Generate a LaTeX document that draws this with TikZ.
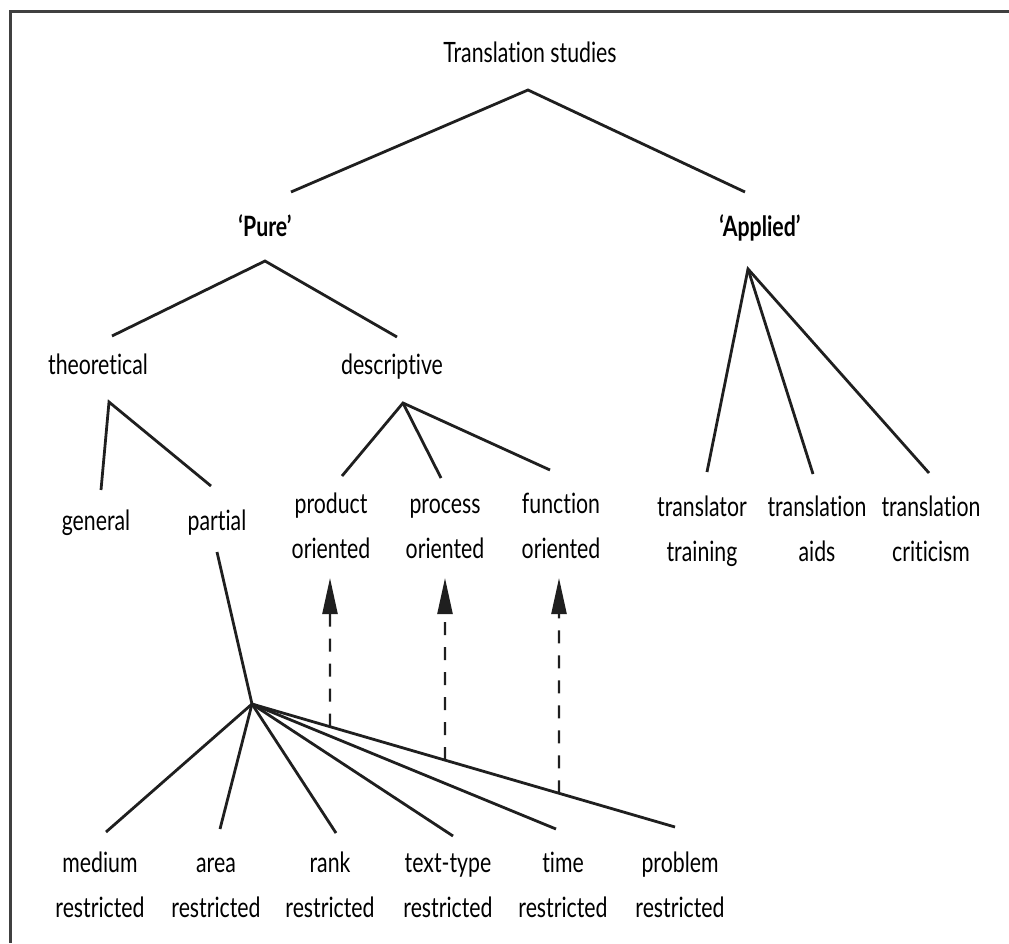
\documentclass[tikz,border=0pt]{standalone}
\usepackage{fontspec}
\setmainfont{Lato}[FakeStretch=0.76, Ligatures={TeX,NoCommon}]
\usetikzlibrary{arrows.meta}
\tikzset{
  lbl/.style={font=\fontsize{28}{45}\selectfont, align=center, inner sep=0pt, anchor=base},
  br/.style={line width=2.8pt, draw=black!88},
  dsh/.style={line width=2.4pt, draw=black!88, dash pattern=on 13pt off 12pt,
    -{Triangle[length=36pt,width=15pt,fill=black!88]}},
  frame/.style={line width=3pt, draw=black!75}
}
\begin{document}
\begin{tikzpicture}[x=1pt,y=-1pt]
\useasboundingbox (0,0) rectangle (1009,943);
\draw[frame] (1009,11) -- (10.5,11) -- (10.5,943);

% labels (base = baseline of the last line)
\node[lbl] (ts) at (530,62) {Translation studies};
\node[lbl] (pure) at (265,236) {\bfseries ‘Pure’};
\node[lbl] (applied) at (760,236) {\bfseries ‘Applied’};
\node[lbl] (theo) at (98,374) {theoretical};
\node[lbl] (desc) at (392,374) {descriptive};
\node[lbl] (gen) at (96,530) {general};
\node[lbl] (part) at (217,530) {partial};
\node[lbl] (prod) at (331,558) {product\\oriented};
\node[lbl] (proc) at (445,558) {process\\oriented};
\node[lbl] (func) at (561,558) {function\\oriented};
\node[lbl] (ttr) at (702,561) {translator\\training};
\node[lbl] (tai) at (817,561) {translation\\aids};
\node[lbl] (tcr) at (931,561) {translation\\criticism};
\node[lbl] (med) at (100,917) {medium\\restricted};
\node[lbl] (area) at (216,917) {area\\restricted};
\node[lbl] (rank) at (330,917) {rank\\restricted};
\node[lbl] (ttype) at (448,917) {text-type\\restricted};
\node[lbl] (time) at (563,917) {time\\restricted};
\node[lbl] (prob) at (680,917) {problem\\restricted};

% branch points
\coordinate (tsA) at (528,90);
\coordinate (tsL) at (291,192);
\coordinate (tsR) at (745,192);
\coordinate (puA) at (265,261);
\coordinate (puL) at (112,336);
\coordinate (puR) at (397,337);
\coordinate (apA) at (748,269);
\coordinate (apL) at (707,472);
\coordinate (apM) at (813,474);
\coordinate (apR) at (929,473);
\coordinate (thA) at (109,402);
\coordinate (thL) at (101,490);
\coordinate (thR) at (211,486);
\coordinate (deA) at (403,403);
\coordinate (deL) at (342,476);
\coordinate (deM) at (441,478);
\coordinate (deR) at (550,470);
\coordinate (paT) at (217,552);
\coordinate (hub) at (252,704);
\coordinate (hMed) at (106,832);
\coordinate (hArea) at (220,829);
\coordinate (hRank) at (336,833);
\coordinate (hText) at (453,836);
\coordinate (hTime) at (556,829);
\coordinate (hProb) at (675,827);

\draw[br] (tsL) -- (tsA) -- (tsR);
\draw[br] (puL) -- (puA) -- (puR);
\draw[br] (thL) -- (thA) -- (thR);
\draw[br] (deL) -- (deA) -- (deR);
\draw[br] (deA) -- (deM);
\draw[br] (apL) -- (apA) -- (apR);
\draw[br] (apA) -- (apM);
\draw[br] (paT) -- (hub);
\foreach \e in {hMed,hArea,hRank,hText,hTime,hProb}
  \draw[br] (hub) -- (\e);

% dashed arrows
\coordinate (a1t) at (330,578);
\coordinate (a2t) at (445,578);
\coordinate (a3t) at (559,578);
\coordinate (a1x) at (330,900);
\coordinate (a2x) at (445,900);
\coordinate (a3x) at (559,900);
\coordinate (a1b) at (intersection of hub--hProb and a1t--a1x);
\coordinate (a2b) at (intersection of hub--hProb and a2t--a2x);
\coordinate (a3b) at (intersection of hub--hProb and a3t--a3x);
\draw[dsh] (a1b) -- (a1t);
\draw[dsh] (a2b) -- (a2t);
\draw[dsh] (a3b) -- (a3t);
\end{tikzpicture}
\end{document}
